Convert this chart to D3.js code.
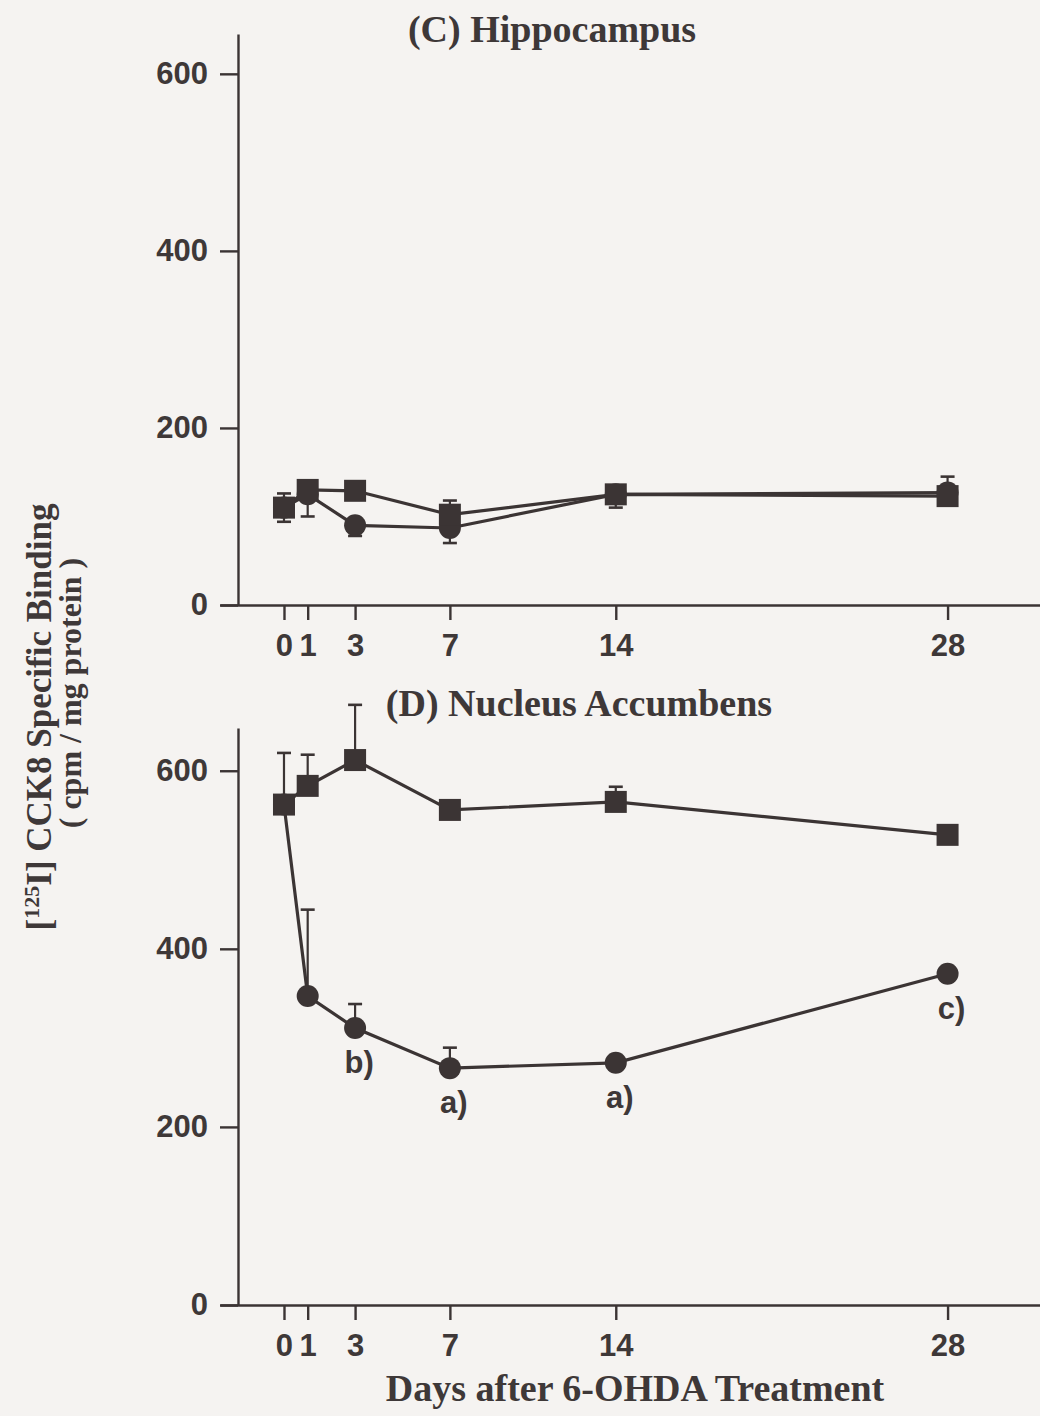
<!DOCTYPE html>
<html>
<head>
<meta charset="utf-8">
<script src="https://cdn.jsdelivr.net/npm/d3@7"></script>
<style>
  html, body { margin: 0; padding: 0; background: #f5f3f1; }
  svg { display: block; }
</style>
</head>
<body>
<svg id="chart" width="1040" height="1416"></svg>
<script>
// Days after 6-OHDA treatment (shared x values)
const days = [0, 1, 3, 7, 14, 28];
const dayTicks = [0, 1, 3, 7, 14, 28];
const bindingTicks = [0, 200, 400, 600];

// (C) Hippocampus — [125I] CCK8 specific binding, cpm / mg protein
const hippoSquare      = [110, 130, 129, 102, 125, 123];
const hippoSquareUp    = [16, 0, 0, 16, 0, 0];
const hippoSquareDown  = [16, 0, 0, 0, 0, 0];
const hippoCircle      = [110, 125, 90, 87, 125, 127];
const hippoCircleUp    = [0, 0, 0, 0, 0, 18];
const hippoCircleDown  = [0, 25, 12, 17, 15, 0];
const hippoCircleNotes = ["", "", "", "", "", ""];

// (D) Nucleus Accumbens
const accSquare      = [562, 583, 612, 556, 565, 528];
const accSquareUp    = [0, 35, 62, 0, 17, 0];
const accSquareDown  = [0, 0, 0, 0, 0, 0];
const accCircle      = [562, 347, 311, 266, 272, 372];
const accCircleUp    = [58, 97, 27, 23, 0, 0];
const accCircleDown  = [0, 0, 0, 0, 0, 0];
const accCircleNotes = ["", "", "b)", "a)", "a)", "c)"];

const INK = "#3b3434";
const TEXT = "#3e3838";
const SANS = "'Liberation Sans', Arial, Helvetica, sans-serif";
const SERIF = "'Liberation Serif', 'Times New Roman', Times, serif";

const svg = d3.select("#chart");

// x scale shared by both panels; the domain runs past the data so the
// baseline reaches from left of the y axis to the right edge
const x = d3.scaleLinear().domain([-2.7, 31.9]).range([220, 1040]);

const panels = [
  {
    title: "(C) Hippocampus", titleX: 552, titleY: 42,
    yTop: 34, yBottom: 605, yMax: 645,
    square: hippoSquare, squareUp: hippoSquareUp, squareDown: hippoSquareDown,
    circle: hippoCircle, circleUp: hippoCircleUp, circleDown: hippoCircleDown,
    notes: hippoCircleNotes
  },
  {
    title: "(D) Nucleus Accumbens", titleX: 579, titleY: 716,
    yTop: 728, yBottom: 1305, yMax: 648,
    square: accSquare, squareUp: accSquareUp, squareDown: accSquareDown,
    circle: accCircle, circleUp: accCircleUp, circleDown: accCircleDown,
    notes: accCircleNotes
  }
];

function toPoints(values, up, down) {
  return days.map((d, i) => ({ day: d, v: values[i], up: up[i], down: down[i] }));
}

panels.forEach(p => {
  const y = d3.scaleLinear().domain([0, p.yMax]).range([p.yBottom, p.yTop]);
  const g = svg.append("g");

  // y axis
  const yAxis = g.append("g")
    .attr("transform", `translate(${x(0) - 46},0)`)
    .call(d3.axisLeft(y).tickValues(bindingTicks).tickSize(18).tickPadding(12).tickSizeOuter(0));
  yAxis.select(".domain").attr("stroke", INK).attr("stroke-width", 2.4);
  yAxis.selectAll(".tick line").attr("stroke", INK).attr("stroke-width", 2.4);
  yAxis.selectAll(".tick text")
    .attr("fill", TEXT).style("font-family", SANS).style("font-weight", "bold").style("font-size", "31px");

  // x axis
  const xAxis = g.append("g")
    .attr("transform", `translate(0,${p.yBottom})`)
    .call(d3.axisBottom(x).tickValues(dayTicks).tickFormat(d3.format("d")).tickSize(15).tickPadding(14).tickSizeOuter(0));
  xAxis.select(".domain").attr("stroke", INK).attr("stroke-width", 2.4);
  xAxis.selectAll(".tick line").attr("stroke", INK).attr("stroke-width", 2.4);
  xAxis.selectAll(".tick text")
    .attr("fill", TEXT).style("font-family", SANS).style("font-weight", "bold").style("font-size", "31px");

  // panel title
  g.append("text")
    .attr("x", p.titleX).attr("y", p.titleY)
    .attr("text-anchor", "middle")
    .attr("fill", TEXT)
    .style("font-family", SERIF).style("font-weight", "bold").style("font-size", "38px")
    .text(p.title);

  const line = d3.line().x(d => x(d.day)).y(d => y(d.v));
  const sq = toPoints(p.square, p.squareUp, p.squareDown);
  const ci = toPoints(p.circle, p.circleUp, p.circleDown);

  // connecting lines
  [ci, sq].forEach(pts => {
    g.append("path").datum(pts)
      .attr("d", line)
      .attr("fill", "none").attr("stroke", INK).attr("stroke-width", 3.2);
  });

  // error bars (one-sided where only one side was drawn)
  const capW = 7;
  [ci, sq].forEach(pts => {
    pts.forEach(d => {
      [[d.up, 1], [d.down, -1]].forEach(([e, s]) => {
        if (!e) return;
        const y0 = y(d.v), y1 = y(d.v + s * e);
        g.append("line").attr("x1", x(d.day)).attr("x2", x(d.day))
          .attr("y1", y0).attr("y2", y1).attr("stroke", INK).attr("stroke-width", 2.2);
        g.append("line").attr("x1", x(d.day) - capW).attr("x2", x(d.day) + capW)
          .attr("y1", y1).attr("y2", y1).attr("stroke", INK).attr("stroke-width", 2.6);
      });
    });
  });

  // circle markers, then square markers on top
  g.selectAll(".circ").data(ci).join("circle")
    .attr("cx", d => x(d.day)).attr("cy", d => y(d.v)).attr("r", 11)
    .attr("fill", INK);
  const s = 22;
  g.selectAll(".sq").data(sq).join("rect")
    .attr("x", d => x(d.day) - s / 2).attr("y", d => y(d.v) - s / 2)
    .attr("width", s).attr("height", s)
    .attr("fill", INK);

  // significance notes under the circle series
  g.selectAll(".note").data(ci.map((d, i) => ({ ...d, note: p.notes[i] })).filter(d => d.note))
    .join("text")
    .attr("x", d => x(d.day) + 4).attr("y", d => y(d.v) + 45)
    .attr("text-anchor", "middle")
    .attr("fill", TEXT)
    .style("font-family", SANS).style("font-weight", "bold").style("font-size", "31px")
    .text(d => d.note);
});

// shared y axis title
const yt = svg.append("g").attr("transform", "translate(51,717) rotate(-90)");
const t1 = yt.append("text").attr("text-anchor", "middle").attr("fill", TEXT)
  .style("font-family", SERIF).style("font-weight", "bold").style("font-size", "35px");
t1.append("tspan").text("[");
t1.append("tspan").attr("dy", -12).style("font-size", "22px").text("125");
t1.append("tspan").attr("dy", 12).text("I] CCK8 Specific Binding");
svg.append("text")
  .attr("transform", "translate(81,693) rotate(-90)")
  .attr("text-anchor", "middle").attr("fill", TEXT)
  .style("font-family", SERIF).style("font-weight", "bold").style("font-size", "32px")
  .text("( cpm / mg protein )");

// x axis title
svg.append("text")
  .attr("x", 635).attr("y", 1401)
  .attr("text-anchor", "middle").attr("fill", TEXT)
  .style("font-family", SERIF).style("font-weight", "bold").style("font-size", "38px")
  .text("Days after 6-OHDA Treatment");
</script>
</body>
</html>
